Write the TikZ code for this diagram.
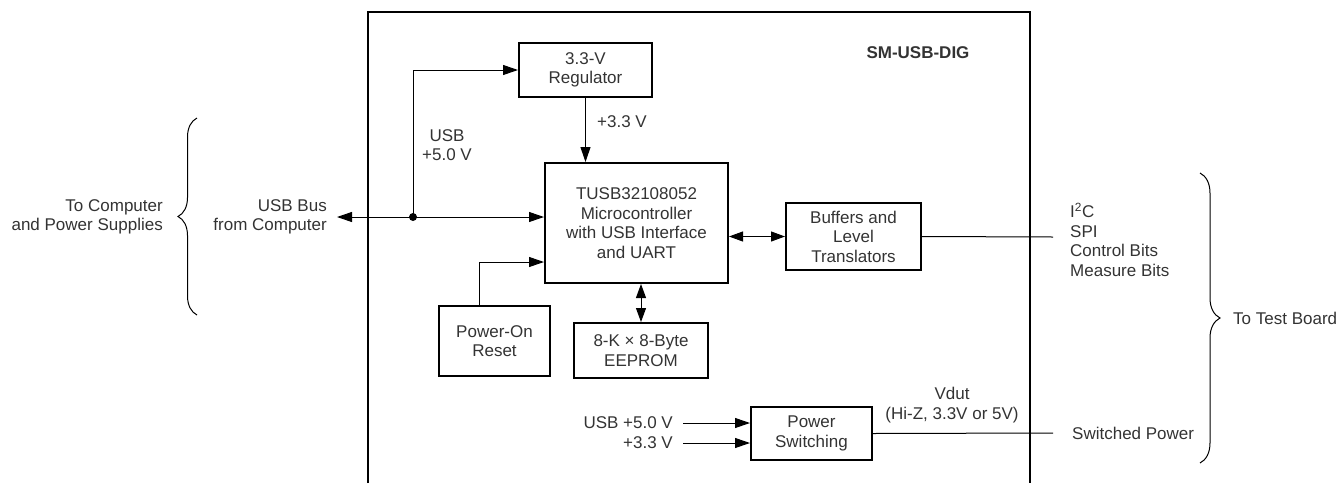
\documentclass[tikz,border=0pt]{standalone}
\usepackage{fontspec}
\setmainfont{Liberation Sans}
\usepackage{tikz}
\usetikzlibrary{arrows.meta,decorations.pathreplacing}
\definecolor{ctext}{HTML}{333333}
\newcommand{\dgfont}{\fontsize{17}{19.5}\selectfont}

\begin{document}
\begin{tikzpicture}[x=1pt, y=-1pt,
    blk/.style={draw, line width=2pt, align=center, inner sep=0pt,
                text=ctext, font=\dgfont},
    lbl/.style={align=center, inner sep=0pt, text=ctext, font=\dgfont},
    wire/.style={line width=1pt},
    tip/.style={-{Triangle[length=15pt,width=10pt]}},
    tips/.style={{Triangle[length=14pt,width=10pt]}-{Triangle[length=14pt,width=10pt]}}]
  \useasboundingbox (0,0) rectangle (1342,483);
  \draw[line width=2.5pt] (368,483) -- (368,12) -- (1030,12) -- (1030,483);

  \node[blk, minimum width=183pt, minimum height=120pt] (mcu) at (636.5,223)
        {TUSB32108052\\Microcontroller\\with USB Interface\\and UART};
  \node[blk, minimum width=133pt, minimum height=54pt] (reg) at (585.5,70)
        {3.3-V\\Regulator};
  \node[blk, minimum width=135pt, minimum height=67pt] (buf) at (853.5,236.5)
        {Buffers and\\Level\\Translators};
  \node[blk, minimum width=134pt, minimum height=55pt] (eep) at (641,350.5)
        {8-K × 8-Byte\\EEPROM};
  \node[blk, minimum width=111pt, minimum height=70pt] (por) at (494.5,341)
        {Power-On\\Reset};
  \node[blk, minimum width=121pt, minimum height=53pt] (psw) at (811.5,433.5)
        {Power\\Switching};

  \node[lbl, font=\dgfont\bfseries] (title) at (918,53) {SM-USB-DIG};
  \node[lbl] (usb5) at (447,145) {USB\\+5.0 V};
  \node[lbl, anchor=west] (v33) at (597,122) {+3.3 V};
  \node[lbl, align=right, anchor=east] (tocomp) at (163,217)
        {To Computer\\and Power Supplies};
  \node[lbl, align=right, anchor=east, inner xsep=10pt] (usbbus) at (337,217)
        {USB Bus\\from Computer};
  \node[lbl, align=left, anchor=west] (sigs) at (1070,240)
        {I\textsuperscript{2}C\\SPI\\Control Bits\\Measure Bits};
  \node[lbl, anchor=west] (swpow) at (1072,433) {Switched Power};
  \node[lbl] (vdut) at (952,405) {Vdut\\(Hi-Z, 3.3V or 5V)};
  \node[lbl, anchor=west] (totest) at (1233,318) {To Test Board};
  \node[lbl, anchor=east, inner xsep=10pt] (in5v) at (683,423) {USB +5.0 V};
  \node[lbl, anchor=east, inner xsep=10pt] (in33) at (683,443) {+3.3 V};

  \coordinate (jn) at (413,217);
  \coordinate (bufout) at (1053,237);
  \coordinate (swout) at (1053,433);

  \draw[wire, tip] (jn) -- (usbbus.east);
  \draw[wire, tip] (jn) -- (mcu.west |- jn);
  \draw[wire, tip] (jn) |- (reg.west);
  \fill (jn) circle (4pt);
  \draw[wire, tip] (reg.south) -- (reg.south |- mcu.north);
  \draw[wire, tips] (mcu.east |- buf.west) -- (buf.west);
  \draw[wire, tips] (mcu.south -| eep.north) -- (eep.north);
  \draw[wire, tip] ([xshift=-15.5pt]por.north) |- ([yshift=-39pt]mcu.west);
  \draw[wire] (buf.east) -- (bufout);
  \draw[wire, tip] (in5v.east) -- (psw.west |- in5v.east);
  \draw[wire, tip] (in33.east) -- (psw.west |- in33.east);
  \draw[wire] (psw.east) -- (swout);

  \draw[wire, decorate, decoration={brace, amplitude=19pt}] (197,315) -- (197,118);
  \draw[wire, decorate, decoration={brace, amplitude=20pt}] (1200,173) -- (1200,463);
\end{tikzpicture}
\end{document}
